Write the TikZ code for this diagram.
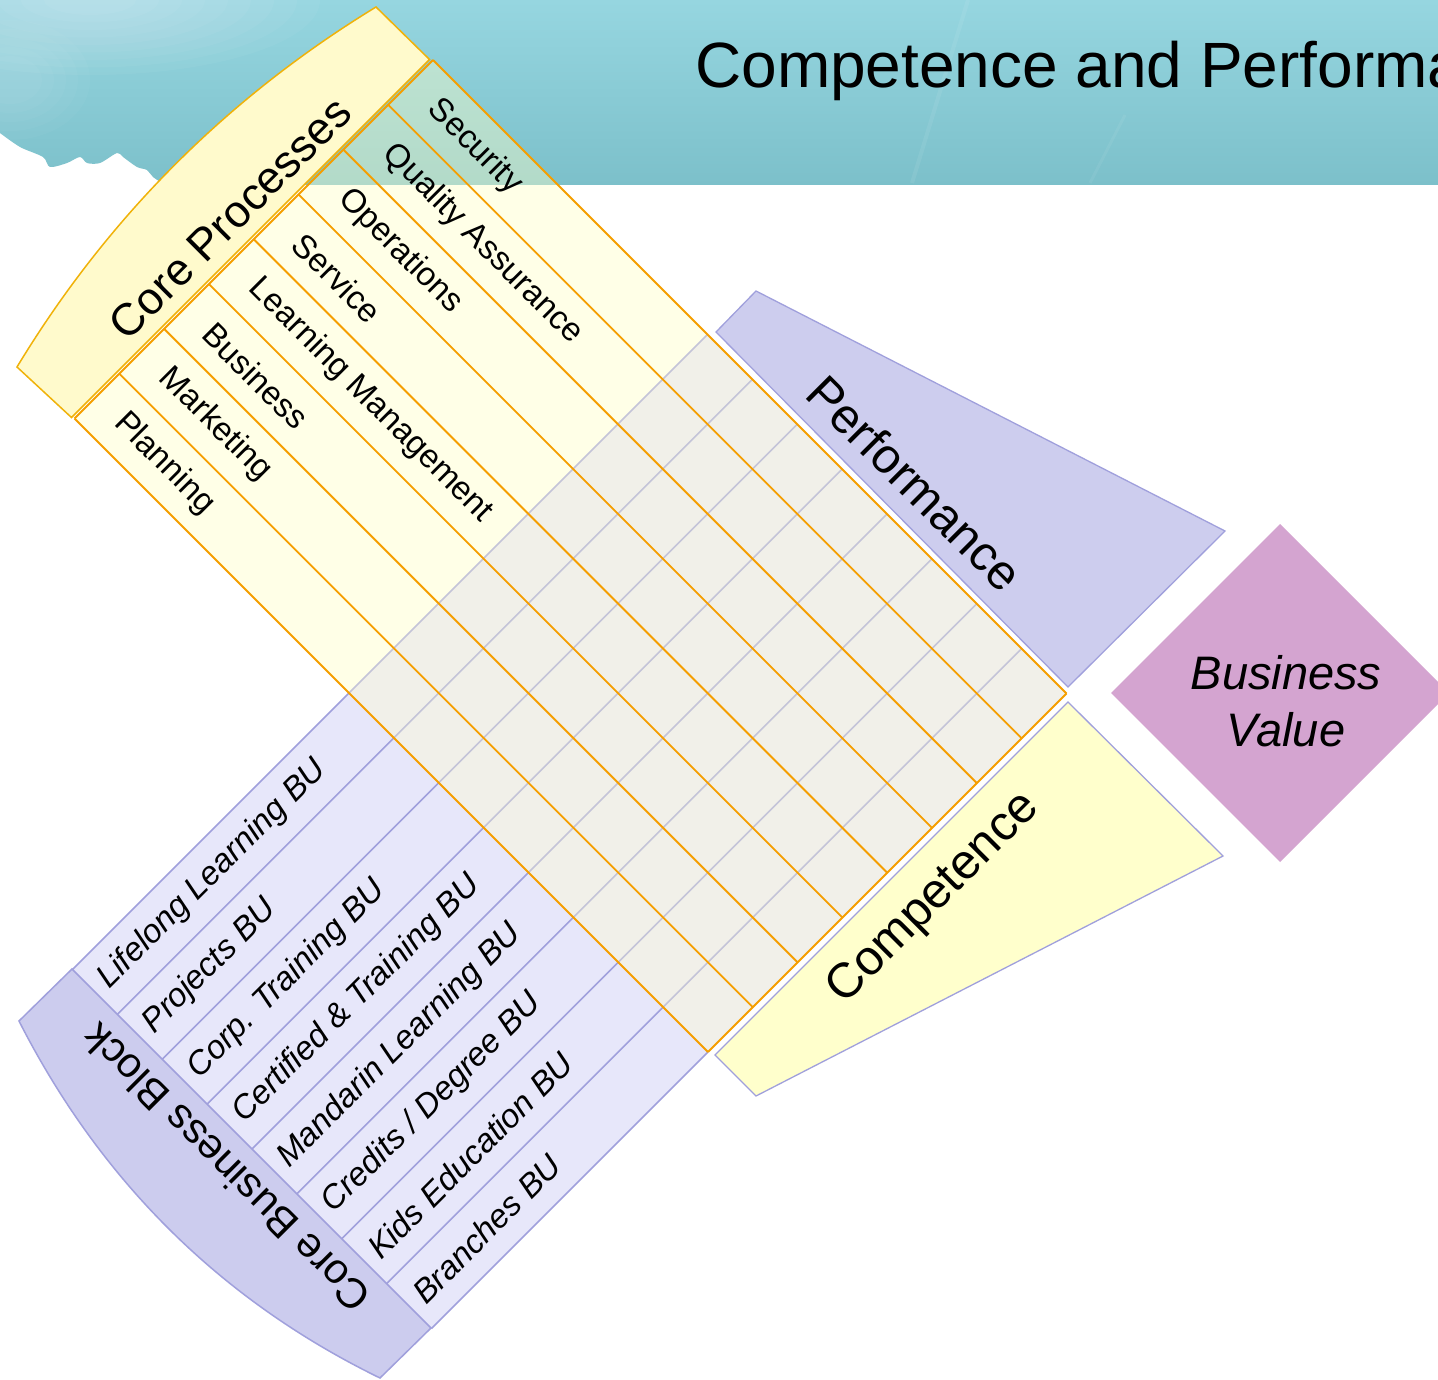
\documentclass[tikz,border=0pt]{standalone}
\usepackage{fontspec}
\setmainfont{Liberation Sans}
\definecolor{tealTop}{RGB}{150,214,224}
\definecolor{tealBot}{RGB}{124,192,202}
\definecolor{hdrY}{RGB}{255,250,204}
\definecolor{hdrYline}{RGB}{240,178,10}
\definecolor{bandY}{RGB}{255,255,200}
\definecolor{orangeL}{RGB}{245,158,0}
\definecolor{cellG}{RGB}{241,240,233}
\definecolor{gridG}{RGB}{196,196,216}
\definecolor{lav}{RGB}{231,231,250}
\definecolor{lavLine}{RGB}{160,160,220}
\definecolor{hdrB}{RGB}{204,204,238}
\definecolor{perfC}{RGB}{205,205,238}
\definecolor{compC}{RGB}{255,255,204}
\definecolor{bvC}{RGB}{212,164,208}
\begin{document}
\begin{tikzpicture}[x=1pt,y=-1pt,
  orangeline/.style={draw=orangeL,line width=1.9pt},
  greyline/.style={draw=gridG,line width=1.5pt},
  lavline/.style={draw=lavLine,line width=1.5pt},
  plabel/.style={rotate=-45,anchor=west,inner sep=0pt,font=\fontsize{33}{38}\selectfont},
  blabel/.style={rotate=45,anchor=west,inner sep=0pt,font=\fontsize{33}{38}\selectfont\itshape},
  shapeline/.style={draw=lavLine,line width=1.3pt},
]
\clip (0,0) rectangle (1438,1380);
\fill[white] (0,0) rectangle (1438,1380);
% ---- banner
\shade[top color=tealTop,bottom color=tealBot] (0,0) -- (1438,0) -- (1438,185) --
  plot[smooth] coordinates {(165,185) (153,177) (147,170) (137,167) (123,157) (117,153) (100,163) (87,163) (80,157) (67,163) (50,167) (43,157) (20,147) (0,133)} -- cycle;
\foreach \r in {1,0.9,0.8,0.7,0.6,0.5,0.4,0.3,0.2}{
  \fill[white,opacity=0.045] (90,0) ellipse ({230*\r} and {75*\r});
}
\foreach \r in {1,0.85,0.7,0.55,0.4}{
  \fill[white,opacity=0.03] (10,80) ellipse ({80*\r} and {60*\r});
}
\draw[white,opacity=0.07,line width=4pt] (968,0) -- (912,183);
\draw[white,opacity=0.06,line width=3pt] (1125,115) -- (1090,183);
% ---- side shapes
\filldraw[fill=perfC,shapeline] (716,332) -- (756,291) -- (1225,531) -- (1068,687) -- cycle;
\filldraw[fill=compC,shapeline] (715,1055) -- (1068,702) -- (1223,856) -- (756,1096) -- cycle;
\fill[bvC] (1280,524) -- (1449,693) -- (1280,862) -- (1111,693) -- cycle;
% ---- rotated matrix (v,u) coordinates
\begin{scope}[x={(0.5pt,-0.5pt)},y={(-0.5pt,-0.5pt)}]
  \fill[lav] (1042,344) -- (1760,344) -- (1760,897) -- (1042,897) -- cycle;
  \fill[bandY,opacity=0.42] (493,-373) -- (1042,-373) -- (1042,344) -- (493,344) -- cycle;
  \fill[cellG] (1042,-373) -- (1760,-373) -- (1760,344) -- (1042,344) -- cycle;
  \foreach \k in {0,...,7}{
    \pgfmathsetmacro\vv{1042+\k*89.75}
    \draw[greyline] (\vv,-373) -- (\vv,344);
    \draw[lavline] (\vv,344) -- (\vv,897);
  }
  \draw[lavline] (1760,344) -- (1760,897);
  \foreach \k in {0,...,8}{
    \pgfmathsetmacro\uu{-373+\k*89.625}
    \draw[orangeline] (493,\uu) -- (1760,\uu);
  }
  \draw[orangeline] (493,-373) -- (493,344);
  \draw[orangeline] (1760,-373) -- (1760,344);
  % headers
  \filldraw[fill=hdrY,draw=hdrYline,line width=1.5pt] (384,350) .. controls (325,110) and (325,-130) .. (383,-369) -- (489,-370) -- (489,346) -- cycle;
  \filldraw[fill=hdrB,draw=lavLine,line width=1.5pt] (1040,1002) .. controls (1280,1080) and (1520,1080) .. (1758,998) -- (1759,897) -- (1041,897) -- cycle;
  \node[font=\fontsize{45}{50}\selectfont,rotate=45] (cp) at (448,-12) {Core Processes};
  \node[font=\fontsize{42}{48}\selectfont,rotate=135] (cbb) at (1394,942) {Core Business Block};
  \foreach \lab [count=\k] in {Planning,Marketing,Business,Learning Management,Service,Operations,Quality Assurance,Security}{
    \pgfmathsetmacro\uu{344-(\k-0.5)*89.625}
    \node[plabel] (p\k) at (537,\uu) {\lab};
  }
  \foreach \lab [count=\k] in {Lifelong Learning BU,Projects BU,Corp. Training BU,Certified \& Training BU,Mandarin Learning BU,Credits / Degree BU,Kids Education BU,Branches BU}{
    \pgfmathsetmacro\vv{1042+(\k-0.5)*89.75}
    \node[blabel] (b\k) at (\vv,880) {\lab};
  }
\end{scope}
% ---- texts
\node[font=\fontsize{49}{55}\selectfont,rotate=-45] (perf) at (915,483) {Performance};
\node[font=\fontsize{49}{55}\selectfont,rotate=45] (comp) at (934,899) {Competence};
\node[font=\fontsize{47}{57}\selectfont\itshape,align=center] (bv) at (1286,701) {Business\\Value};
\node[font=\fontsize{64}{70}\selectfont,anchor=base west,inner sep=0pt] (title) at (695,88) {Competence and Performa};
\end{tikzpicture}
\end{document}
